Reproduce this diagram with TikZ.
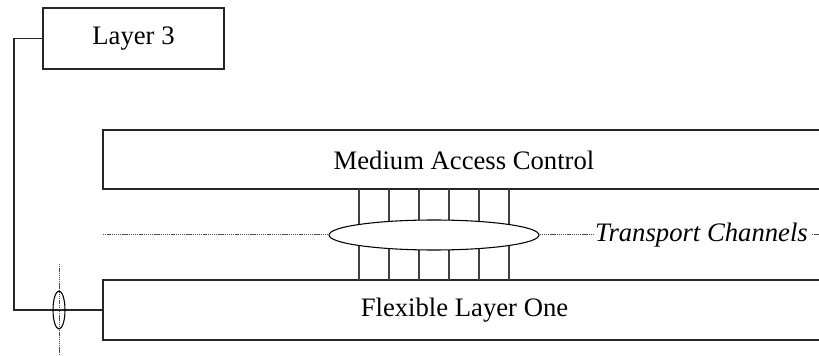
\documentclass[tikz,border=0pt]{standalone}
\usepackage{fontspec}
\setmainfont{LiberationSerif}[Extension=.ttf,UprightFont=*-Regular,ItalicFont=*-Italic,BoldFont=*-Bold]
\usetikzlibrary{shapes.geometric}
\begin{document}
\begin{tikzpicture}[x=0.75pt,y=-0.75pt,
  line/.style={draw=black!85,line width=0.8pt},
  fine/.style={draw=black!70,line width=0.75pt,dash pattern=on 1pt off 0.6pt},
  lbl/.style={font=\fontsize{20}{24}\selectfont,inner sep=0pt},
  boxnode/.style={draw=black!85,line width=0.8pt,minimum width=135.75pt,minimum height=45.75pt,inner sep=0pt,font=\fontsize{20}{24}\selectfont}]
\useasboundingbox (0,0) rectangle (819,356);
% Layer 3
\node[boxnode] (l3) at (133.5,38.5) {Layer 3};
% MAC box (open at right)
\coordinate (macTL) at (103,130);
\coordinate (macBL) at (103,189);
\draw[line] (819,130) -- (macTL) -- (macBL) -- (819,189);
\node[lbl] (mac) at (464,160) {Medium Access Control};
% Flexible layer one box (open at right)
\coordinate (flTL) at (103,280);
\coordinate (flBL) at (103,340);
\draw[line] (819,280) -- (flTL) -- (flBL) -- (819,340);
\node[lbl] (fl) at (464.5,310) {Flexible Layer One};
% channels
\foreach \x in {359,389,419,449,479,509}{
  \draw[line,draw=black!75] (\x,189) -- (\x,280);
}
\node[ellipse,draw=black,line width=0.8pt,fill=white,minimum width=157.5pt,minimum height=22.5pt,inner sep=0pt] (tc) at (434,235) {};
\coordinate (tcL) at (103,235);
\draw[fine] (tcL) -- (tc.west);
\node[lbl,font=\fontsize{20}{24}\selectfont\itshape] (tct) at (701.5,235) {Transport Channels};
\coordinate (tcR) at (819,235);
\draw[fine] (tc.east) -- (tct.west);
\draw[fine] ([xshift=3pt]tct.east) -- (tcR);
% Layer 3 connection
\coordinate (c1) at (14,38.5);
\coordinate (c2) at (14,310);
\coordinate (flL) at (103,310);
\draw[line] (l3.west) -- (c1) -- (c2) -- (flL);
% SAP ellipse
\coordinate (sT) at (59,264);
\coordinate (sB) at (59,356);
\draw[fine] (sT) -- (sB);
\node[ellipse,draw=black,line width=0.8pt,minimum width=9pt,minimum height=28.5pt,inner sep=0pt] (sap) at (59,310) {};
\end{tikzpicture}
\end{document}
